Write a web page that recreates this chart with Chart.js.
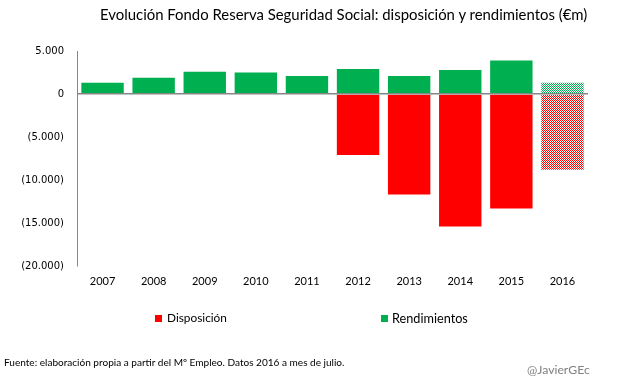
<!DOCTYPE html>
<html>
<head>
<meta charset="utf-8">
<script src="https://cdn.jsdelivr.net/npm/chart.js@4.4.0/dist/chart.umd.min.js"></script>
<style>
  body { margin: 0; width: 620px; height: 382px; position: relative; background: #fff; overflow: hidden; font-family: Lato, "Liberation Sans", sans-serif; }
  canvas { position: absolute; left: 0; top: 0; }
  .txt { position: absolute; white-space: nowrap; line-height: 1; color: #000; }
  .box { position: absolute; width: 7px; height: 7px; }
</style>
</head>
<body>
<canvas id="chart" width="620" height="382"></canvas>
<div id="title" class="txt">Evolución Fondo Reserva Seguridad Social: disposición y rendimientos (€m)</div>
<div id="legend"></div>
<div id="source" class="txt">Fuente: elaboración propia a partir del Mº Empleo. Datos 2016 a mes de julio.</div>
<div id="credit" class="txt" style="color:#808080">@JavierGEc</div>
<script>
const years = ['2007', '2008', '2009', '2010', '2011', '2012', '2013', '2014', '2015', '2016'];
const disposicion = [null, null, null, null, null, -7100, -11700, -15400, -13300, -8800];
const rendimientos = [1300, 1900, 2600, 2500, 2100, 2900, 2100, 2800, 3900, 1300];
const yTicks = [5000, 0, -5000, -10000, -15000, -20000];

const RED = '#ff0000';
const GREEN = '#00b050';

// 2016 is partial year -> checker pattern
function checker(color) {
  const c = document.createElement('canvas');
  c.width = 2; c.height = 2;
  const g = c.getContext('2d');
  g.fillStyle = '#fff';
  g.fillRect(0, 0, 2, 2);
  g.fillStyle = color;
  g.fillRect(0, 0, 1, 1);
  g.fillRect(1, 1, 1, 1);
  return g.createPattern(c, 'repeat');
}
const redPat = checker(RED);
const greenPat = checker(GREEN);

function fmt(v) {
  const s = Math.abs(v).toString().replace(/\B(?=(\d{3})+(?!\d))/g, '.');
  return v < 0 ? '(' + s + ')' : s;
}

// size a text block to a given width, centred vertically on cy
function place(el, left, cy, width) {
  el.style.fontSize = '100px';
  const w = el.offsetWidth;
  const size = 100 * width / w;
  el.style.fontSize = size + 'px';
  el.style.left = left + 'px';
  el.style.top = (cy - el.offsetHeight / 2) + 'px';
}

new Chart(document.getElementById('chart'), {
  type: 'bar',
  data: {
    labels: years,
    datasets: [
      {
        label: 'Disposición',
        data: disposicion,
        backgroundColor: ctx => ctx.dataIndex === 9 ? redPat : RED
      },
      {
        label: 'Rendimientos',
        data: rendimientos,
        backgroundColor: ctx => ctx.dataIndex === 9 ? greenPat : GREEN
      }
    ]
  },
  options: {
    responsive: false,
    devicePixelRatio: 1,
    animation: false,
    layout: { padding: { top: 51, right: 32, bottom: 91, left: 0 } },
    plugins: { legend: { display: false }, tooltip: { enabled: false } },
    datasets: { bar: { barPercentage: 0.83, categoryPercentage: 1, borderWidth: 0 } },
    scales: {
      x: {
        stacked: true,
        grid: { display: false, drawTicks: false },
        border: { display: false },
        ticks: { padding: 9, color: '#000', font: { family: 'Lato', size: 11 } },
        afterFit: scale => { scale.height = 25; }
      },
      y: {
        stacked: true,
        min: -20000,
        max: 5000,
        afterBuildTicks: scale => { scale.ticks = yTicks.map(v => ({ value: v })); },
        afterFit: scale => { scale.width = 77; },
        // zero line sits on top of the bars
        grid: {
          z: 1,
          drawTicks: false,
          lineWidth: 1.5,
          color: ctx => ctx.tick && ctx.tick.value === 0 ? '#868686' : 'rgba(0,0,0,0)'
        },
        border: { display: true, color: '#868686', width: 1, z: 1 },
        ticks: {
          padding: 13,
          color: '#000',
          font: { family: 'DejaVu Sans', size: 10 },
          callback: v => fmt(v)
        }
      }
    }
  }
});

// legend, spread like the original
const legend = document.getElementById('legend');
const legendItems = [
  { label: 'Disposición', color: RED, box: 155, text: 167, width: 60 },
  { label: 'Rendimientos', color: GREEN, box: 381, text: 392, width: 76 }
];
legendItems.forEach(item => {
  const b = document.createElement('div');
  b.className = 'box';
  b.style.background = item.color;
  b.style.left = item.box + 'px';
  b.style.top = '315px';
  legend.appendChild(b);
  const t = document.createElement('div');
  t.className = 'txt';
  t.textContent = item.label;
  legend.appendChild(t);
  place(t, item.text, 318, item.width);
});

place(document.getElementById('title'), 100, 14, 488);
place(document.getElementById('source'), 4, 362, 341);
place(document.getElementById('credit'), 527, 370, 63);
</script>
</body>
</html>
